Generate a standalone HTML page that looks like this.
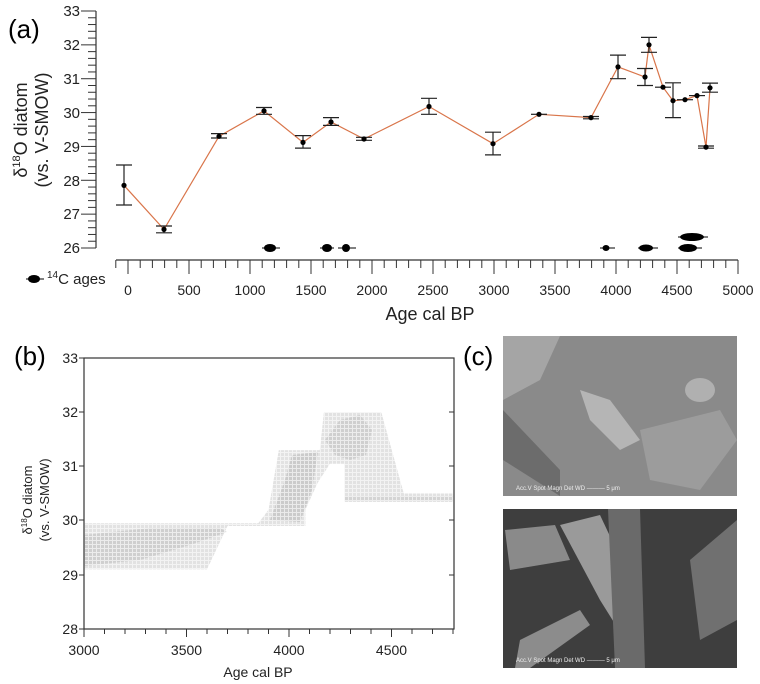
<!DOCTYPE html>
<html><head><meta charset="utf-8"><style>
body{margin:0;background:#fff;width:760px;height:684px;overflow:hidden}
svg{display:block;font-family:"Liberation Sans",sans-serif}
</style></head><body>
<svg width="760" height="684" viewBox="0 0 760 684">
<defs>
<pattern id="grid" width="4" height="4" patternUnits="userSpaceOnUse"><path d="M0 0.5H4M0.5 0V4" stroke="#fff" stroke-width="1" opacity="0.6"/></pattern>
</defs>
<!-- Panel a -->
<text x="8" y="38" font-size="26">(a)</text>
<g stroke="#333" stroke-width="1.2" fill="none">
<line x1="96" y1="11" x2="96" y2="248"/>
</g>
<g id="ya" stroke="#333" stroke-width="1"></g>
<g font-size="15" fill="#222" text-anchor="end">
<text x="80" y="16">33</text><text x="80" y="50">32</text><text x="80" y="84">31</text><text x="80" y="118">30</text><text x="80" y="152">29</text><text x="80" y="186">28</text><text x="80" y="219">27</text><text x="80" y="253">26</text>
</g>
<g font-size="18" fill="#222" text-anchor="middle">
<text transform="translate(27,130) rotate(-90)">δ<tspan font-size="11" dy="-7">18</tspan><tspan dy="7">O diatom</tspan></text>
<text transform="translate(48,130) rotate(-90)">(vs. V-SMOW)</text>
</g>
<g id="xa" stroke="#333" stroke-width="1"><line x1="116" y1="260" x2="738" y2="260" stroke-width="1.2"/></g>
<g font-size="14" fill="#222" text-anchor="middle">
<text x="128" y="295">0</text><text x="189" y="295">500</text><text x="250" y="295">1000</text><text x="311" y="295">1500</text><text x="372" y="295">2000</text><text x="433" y="295">2500</text><text x="494" y="295">3000</text><text x="555" y="295">3500</text><text x="616" y="295">4000</text><text x="677" y="295">4500</text><text x="738" y="295">5000</text>
</g>
<text x="430" y="320" font-size="18" text-anchor="middle" fill="#222">Age cal BP</text>
<ellipse cx="34" cy="279" rx="6" ry="4" fill="#000"/><line x1="26" y1="279" x2="44" y2="279" stroke="#000"/>
<text x="47" y="284" font-size="15" fill="#222"><tspan font-size="10" dy="-6">14</tspan><tspan dy="6">C ages</tspan></text>
<g fill="#000">
<ellipse cx="270" cy="248" rx="6" ry="4"/><line x1="262" y1="248" x2="280" y2="248" stroke="#000"/>
<ellipse cx="327" cy="248" rx="5" ry="4"/><line x1="320" y1="248" x2="334" y2="248" stroke="#000"/>
<ellipse cx="346" cy="248" rx="4" ry="4"/><line x1="338" y1="248" x2="356" y2="248" stroke="#000"/>
<ellipse cx="606" cy="248" rx="3.5" ry="3"/><line x1="600" y1="248" x2="615" y2="248" stroke="#000"/>
<ellipse cx="646" cy="248" rx="7" ry="3.5"/><line x1="638" y1="248" x2="658" y2="248" stroke="#000"/>
<ellipse cx="688" cy="248" rx="9" ry="4"/><line x1="678" y1="248" x2="702" y2="248" stroke="#000"/>
<ellipse cx="692" cy="237" rx="12" ry="4"/><line x1="678" y1="237" x2="708" y2="237" stroke="#000"/>
</g>
<polyline fill="none" stroke="#d9754a" stroke-width="1.2" points="124,185.4 164,229.4 219,136.3 264,110.9 303,142.4 331,122 364,139 429,106.5 493,143.7 539,114.3 591,117.6 618,66.9 645,77 649,44.8 663,87.2 673,100.7 685,99.7 697,95.6 706,147.1 710,87.8"/>
<g stroke="#222" stroke-width="1.2" fill="none">
<path d="M124 165V205M116 165H132M116 205H132"/>
<path d="M164 226V232.8M156 226H172M156 232.8H172"/>
<path d="M219 133.6V138M211 133.6H227M211 138H227"/>
<path d="M264 107.5V114.3M256 107.5H272M256 114.3H272"/>
<path d="M303 135.6V148.1M295 135.6H311M295 148.1H311"/>
<path d="M331 117.6V125.4M323 117.6H339M323 125.4H339"/>
<path d="M364 137.3V140.3M356 137.3H372M356 140.3H372"/>
<path d="M429 98.3V114.3M421 98.3H437M421 114.3H437"/>
<path d="M493 132.2V154.9M485 132.2H501M485 154.9H501"/>
<path d="M531 114.3H547"/>
<path d="M583 116.5H599M583 118.8H599"/>
<path d="M618 55.1V78.7M610 55.1H626M610 78.7H626"/>
<path d="M645 68.5V85.5M637 68.5H653M637 85.5H653"/>
<path d="M649 37.4V52.3M641 37.4H657M641 52.3H657"/>
<path d="M655 87.2H671"/>
<path d="M673 82.8V117.6M665 82.8H681M665 117.6H681"/>
<path d="M677 99.7H693"/>
<path d="M689 95.6H705"/>
<path d="M698 146H714M698 148.2H714"/>
<path d="M710 83.1V92.2M702 83.1H718M702 92.2H718"/>
</g>
<g fill="#000">
<circle cx="124" cy="185.4" r="2.6"/><circle cx="164" cy="229.4" r="2.6"/><circle cx="219" cy="136.3" r="2.6"/><circle cx="264" cy="110.9" r="2.6"/><circle cx="303" cy="142.4" r="2.6"/><circle cx="331" cy="122" r="2.6"/><circle cx="364" cy="139" r="2.6"/><circle cx="429" cy="106.5" r="2.6"/><circle cx="493" cy="143.7" r="2.6"/><circle cx="539" cy="114.3" r="2.6"/><circle cx="591" cy="117.6" r="2.6"/><circle cx="618" cy="66.9" r="2.6"/><circle cx="645" cy="77" r="2.6"/><circle cx="649" cy="44.8" r="2.6"/><circle cx="663" cy="87.2" r="2.6"/><circle cx="673" cy="100.7" r="2.6"/><circle cx="685" cy="99.7" r="2.6"/><circle cx="697" cy="95.6" r="2.6"/><circle cx="706" cy="147.1" r="2.6"/><circle cx="710" cy="87.8" r="2.6"/>
</g>

<!-- Panel b -->
<text x="14" y="365" font-size="26">(b)</text>
<g>
<polygon fill="#d6d6d6" fill-opacity="0.7" points="84,523.3 258.3,523.3 268.5,509.8 278.8,450.1 319.8,450.1 323.9,412.2 381.3,412.2 403.8,493.5 453,493.5 453,501.6 344.4,501.6 344.4,463.7 330,463.7 317.7,482.7 305.4,509.8 305.4,526 227.5,526 207,569.4 84,569.4"/>
<polygon fill="#b8b8b8" fill-opacity="0.45" points="84,535 150,528 220,528 227,532 190,545 140,560 84,566"/>
<polygon fill="#b0b0b0" fill-opacity="0.45" points="270,520 285,480 292,455 318,452 312,490 300,522"/>
<polygon fill="#b5b5b5" fill-opacity="0.4" points="325,440 340,420 360,415 372,430 366,455 350,460 335,455"/>
<polygon fill="#c0c0c0" fill-opacity="0.4" points="345,496 453,496 453,501.6 345,501.6"/>
<rect x="84" y="358" width="370" height="271" fill="url(#grid)"/>
</g>
<g stroke="#333" stroke-width="1.2" fill="none">
<rect x="84" y="358" width="370" height="271"/>
</g>
<g stroke="#333" stroke-width="1">
<path d="M79 358H84M79 412H84M79 466H84M79 520H84M79 575H84M79 629H84M449 412H454M449 466H454M449 520H454M449 575H454M84 629V637M104.5 629V634M125 629V634M145.5 629V634M166 629V634M186.5 629V637M207 629V634M227.5 629V634M248 629V634M268.5 629V634M289 629V637M309.5 629V634M330 629V634M350.5 629V634M371 629V634M391.5 629V637M412 629V634M432.5 629V634M453 629V634"/>
</g>
<g font-size="14" fill="#222" text-anchor="end">
<text x="78" y="363">33</text><text x="78" y="417">32</text><text x="78" y="471">31</text><text x="78" y="525">30</text><text x="78" y="580">29</text><text x="78" y="634">28</text>
</g>
<g font-size="14" fill="#222" text-anchor="middle">
<text x="84" y="655">3000</text><text x="186.5" y="655">3500</text><text x="289" y="655">4000</text><text x="391.5" y="655">4500</text>
<text x="258" y="677">Age cal BP</text>
</g>
<g font-size="13" fill="#222" text-anchor="middle">
<text transform="translate(32,500) rotate(-90)">δ<tspan font-size="8" dy="-5">18</tspan><tspan dy="5">O diatom</tspan></text>
<text transform="translate(49,500) rotate(-90)">(vs. V-SMOW)</text>
</g>

<!-- Panel c -->
<text x="463" y="365" font-size="26">(c)</text>
<rect x="503" y="336" width="234" height="160" fill="#8a8a8a"/>
<polygon points="503,336 560,336 540,380 503,400" fill="#a5a5a5"/>
<polygon points="580,390 610,400 640,440 620,450 590,420" fill="#b5b5b5"/>
<polygon points="640,430 720,410 737,440 700,490 650,480" fill="#9c9c9c"/>
<ellipse cx="700" cy="390" rx="15" ry="12" fill="#b0b0b0"/>
<polygon points="503,410 560,470 560,496 503,460" fill="#6c6c6c"/>
<rect x="503" y="509" width="234" height="159" fill="#3e3e3e"/>
<polygon points="560,525 600,515 640,600 625,640 600,600" fill="#9a9a9a"/>
<polygon points="505,530 555,525 570,560 510,570" fill="#8a8a8a"/>
<polygon points="608,509 640,509 645,668 615,668" fill="#6a6a6a"/>
<polygon points="520,640 580,610 590,625 530,668 515,668" fill="#8c8c8c"/>
<polygon points="690,560 737,520 737,620 700,640" fill="#707070"/>
<g font-size="6" fill="#eee"><text x="516" y="490">Acc.V Spot Magn Det WD ——— 5 μm</text><text x="516" y="662">Acc.V Spot Magn Det WD ——— 5 μm</text></g>
</svg>
<script>
var ya=document.getElementById('ya'),s='';
for(var i=0;i<=35;i++){var y=11+i*237/35;var maj=i%5==0;s+='<line x1="'+(maj?81:88)+'" y1="'+y+'" x2="96" y2="'+y+'"/>';}
ya.innerHTML=s;
var xa=document.getElementById('xa'),t=xa.innerHTML;
for(var j=-1;j<=50;j++){var x=128+j*12.2;var m=j%5==0;t+='<line x1="'+x+'" y1="260" x2="'+x+'" y2="'+(m?274:268)+'"/>';}
xa.innerHTML=t;
</script>
</body></html>
